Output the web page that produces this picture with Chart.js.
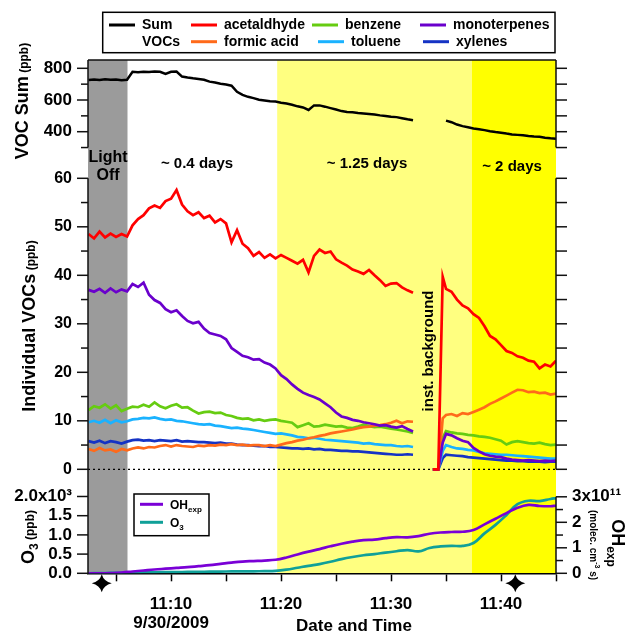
<!DOCTYPE html>
<html>
<head>
<meta charset="utf-8">
<title>Chamber VOCs, 9/30/2009</title>
<script src="https://cdn.jsdelivr.net/npm/chart.js@4.4.0/dist/chart.umd.min.js"></script>
<style>
  html, body { margin: 0; padding: 0; background: #fff; }
  #wrap { width: 629px; height: 632px; }
</style>
</head>
<body>
<div id="wrap"><canvas id="vocChart" width="629" height="632"></canvas></div>
<script>
// time in minutes after 11:00 on 9/30/2009
const tVoc = [
  2.5, 3, 3.5, 4, 4.5, 5, 5.5, 6, 6.5, 7,
  7.5, 8, 8.5, 9, 9.5, 10, 10.5, 11, 11.5, 12,
  12.5, 13, 13.5, 14, 14.5, 15, 15.5, 16, 16.5, 17,
  17.5, 18, 18.5, 19, 19.5, 20, 20.5, 21, 21.5, 22,
  22.5, 23, 23.5, 24, 24.5, 25, 25.5, 26, 26.5, 27,
  27.5, 28, 28.5, 29, 29.5, 30, 30.5, 31, 31.5, 32,
  33, 33.8, 34.3, 34.7,
  35, 35.5, 36, 36.5, 37, 37.5, 38, 38.5, 39, 39.5, 40,
  40.5, 41, 41.5, 42, 42.5, 43, 43.5, 44, 44.5, 45
];

const vocSum = [
  726, 730, 727, 731, 728, 730, 725, 728, 778, 775,
  779, 777, 780, 778, 764, 778, 780, 748, 742, 737,
  733, 728, 716, 710, 703, 698, 690, 652, 632, 620,
  612, 602, 597, 592, 590, 583, 578, 570, 560, 553,
  537, 566, 566, 558, 549, 540, 530, 524, 522, 518,
  515, 512, 508, 503, 499, 494, 492, 485, 478, 472,
  null, null, null, null,
  470, 460, 445, 435, 428, 420, 416, 410, 403, 398, 394,
  388, 383, 380, 377, 373, 370, 368, 362, 358, 355
];

const acetaldehyde = [
  48.5, 47.6, 49.0, 47.8, 48.6, 47.9, 48.5, 48.0, 50.3, 51.6,
  52.4, 53.8, 54.4, 53.9, 55.3, 55.8, 57.6, 54.6, 53.2, 52.4,
  53.0, 51.8, 52.3, 50.9, 51.6, 50.7, 46.8, 49.3, 46.5, 45.6,
  44.0, 44.8, 43.6, 44.3, 43.5, 44.2, 43.6, 43.0, 42.4, 43.2,
  40.6, 44.0, 45.3, 44.6, 44.9, 43.3, 42.6, 42.0, 41.2, 40.8,
  40.3, 41.1, 40.0, 39.0, 37.8, 38.3, 38.4, 37.5, 36.9, 36.4,
  null, 0, 0, 39.7,
  37.2, 36.6, 35.0, 33.8, 33.2, 32.0, 31.2, 29.5, 27.5, 26.8, 25.6,
  24.4, 24.0, 23.3, 23.0, 22.4, 22.2, 20.8, 21.6, 21.2, 22.4
];

const monoterpenes = [
  37.0, 36.6, 37.2, 36.4, 37.3, 36.5, 37.1, 36.7, 38.2, 37.6,
  38.5, 36.0, 34.9, 34.3, 33.0, 32.4, 32.8, 31.6, 30.6, 30.1,
  30.4, 29.0, 28.1, 27.8, 27.5, 26.8, 25.0, 24.2, 23.4, 23.1,
  22.6, 22.7, 22.0, 21.6, 20.8, 19.4, 18.6, 17.5, 16.6, 15.8,
  15.3, 14.9, 14.4, 13.6, 12.8, 11.7, 10.9, 10.6, 10.2, 10.0,
  9.7, 9.5, 9.3, 9.0, 9.1, 8.8, 8.6, 8.9, 8.3, 7.8,
  null, 0, 0, 5.5,
  7.3, 7.0, 6.4, 5.9, 5.6, 4.4, 3.7, 3.1, 2.8, 2.6, 2.5,
  2.2, 2.0, 1.9, 1.8, 1.9, 1.8, 1.7, 1.8, 1.7, 1.8
];

const formicAcid = [
  4.2, 3.8, 4.4, 3.9, 4.1, 3.6, 4.2, 3.9, 4.3, 4.5,
  4.3, 4.6, 4.5, 4.8, 5.0, 4.7, 5.0, 4.8, 4.7, 4.6,
  4.9, 4.8, 5.0, 4.9, 5.1, 5.0, 5.2, 5.0, 5.1, 4.9,
  5.0, 5.0, 4.8, 5.0, 4.8, 5.1, 5.4, 5.6, 5.9, 6.1,
  6.4, 6.6, 6.9, 7.1, 7.4, 7.6, 7.8, 8.0, 8.2, 8.5,
  8.7, 8.8, 9.0, 9.1, 9.3, 9.6, 10.0, 9.5, 9.9, 9.8,
  null, 0, 0, 10.5,
  11.2, 11.4, 11.0, 11.6, 11.4, 11.8, 12.3, 12.8, 13.5, 14.0, 14.6,
  15.2, 15.8, 16.4, 16.3, 15.9, 16.0, 15.7, 15.8, 15.4, 15.6
];

const benzene = [
  12.2, 13.0, 12.7, 13.4, 12.5, 13.2, 12.0, 12.5, 12.9, 12.8,
  13.3, 12.9, 13.8, 13.0, 12.6, 13.1, 13.4, 12.7, 12.8, 12.1,
  11.5, 11.8, 11.9, 11.6, 11.7, 11.2, 11.0, 10.6, 10.4, 10.5,
  10.1, 10.3, 10.0, 10.2, 10.3, 10.0, 9.8, 9.6, 8.7, 9.1,
  9.5, 8.8, 8.9, 9.2, 9.0, 8.8, 8.9, 8.6, 8.5, 8.8,
  9.2, 8.9, 8.7, 8.8, 8.6, 8.4, 8.2, 8.0, 7.8, 7.5,
  null, 0, 0, 6.5,
  7.9, 7.6, 7.4, 7.3, 7.1, 7.0, 6.8, 6.7, 6.5, 6.2, 5.9,
  5.1, 5.6, 5.8, 5.6, 5.4, 5.3, 5.5, 5.2, 5.0, 5.1
];

const toluene = [
  9.7, 10.0, 9.6, 10.2, 9.5, 10.1, 9.7, 9.9, 10.3, 10.4,
  10.6, 10.5, 10.7, 10.4, 10.2, 10.3, 10.0, 9.9, 9.7, 9.5,
  9.3, 9.2, 9.3, 9.0, 8.9, 8.7, 8.5, 8.6, 8.4, 8.3,
  8.1, 7.9, 7.7, 7.5, 7.3, 7.4, 7.2, 7.0, 6.7, 6.6,
  6.4, 6.5, 6.3, 6.1, 6.0, 5.9, 5.8, 5.7, 5.6, 5.5,
  5.3, 5.4, 5.2, 5.1, 5.0, 5.0, 4.8, 4.7, 4.8, 4.6,
  null, 0, 0, 3.8,
  5.0, 4.6, 4.3, 4.2, 4.0, 3.9, 3.6, 3.3, 3.2, 3.1, 3.0,
  3.0, 2.9, 2.8, 2.7, 2.6, 2.5, 2.4, 2.3, 2.2, 2.2
];

const xylenes = [
  5.8, 5.5, 5.9, 5.4, 5.8, 5.6, 5.3, 5.7, 6.0, 6.1,
  5.9, 6.0, 5.8, 6.0, 5.9, 5.8, 6.0, 5.7, 5.8, 5.7,
  5.6, 5.6, 5.5, 5.4, 5.5, 5.3, 5.3, 5.1, 5.0, 5.0,
  4.9, 4.8, 4.8, 4.6, 4.6, 4.5, 4.4, 4.3, 4.3, 4.2,
  4.3, 4.1, 4.2, 4.0, 4.0, 3.9, 3.8, 3.8, 3.7, 3.7,
  3.6, 3.5, 3.4, 3.3, 3.2, 3.1, 3.0, 3.0, 3.1, 3.0,
  null, 0, 0, 2.3,
  3.0, 2.9, 2.8, 2.7, 2.5, 2.4, 2.3, 2.2, 2.1, 2.0, 1.9,
  1.8, 1.8, 1.7, 1.7, 1.6, 1.6, 1.6, 1.5, 1.6, 1.6
];

// bottom panel, one point per minute
const tOx = [
  2.5, 3.5, 4.5, 5.5, 6.5, 7.5, 8.5, 9.5, 10.5, 11.5,
  12.5, 13.5, 14.5, 15.5, 16.5, 17.5, 18.5, 19.5, 20.5, 21.5,
  22.5, 23.5, 24.5, 25.5, 26.5, 27.5, 28.5, 29.5, 30.5, 31.5,
  32.5, 33.5, 34.5, 35.5, 36.5, 37.5, 38.5, 39.5, 40.5, 41.5,
  42.5, 43.5, 44.5, 45
];
// OH exposure, in units of 1e11 molec cm-3 s
const ohExp = [
  0, 0, 0.01, 0.03, 0.07, 0.11, 0.15, 0.18, 0.21, 0.24,
  0.28, 0.32, 0.37, 0.42, 0.46, 0.48, 0.5, 0.53, 0.62, 0.74,
  0.85, 0.95, 1.06, 1.16, 1.24, 1.3, 1.32, 1.38, 1.42, 1.41,
  1.46, 1.55, 1.6, 1.62, 1.63, 1.7, 1.92, 2.14, 2.36, 2.57,
  2.68, 2.64, 2.63, 2.65
];
// ozone, ppb
const ozone = [
  0, 5, 10, 14, 18, 22, 26, 30, 33, 36,
  39, 42, 45, 48, 50, 52, 55, 62, 95, 145,
  195, 240, 300, 370, 425, 470, 500, 540, 575, 605,
  570, 660, 700, 715, 712, 790, 1040, 1260, 1520, 1800,
  1890, 1880, 1935, 1960
];

// light phases: lights off, ~0.4 days, ~1.25 days, ~2 days
const phaseEdges = [6.06, 19.65, 37.36];
const phaseColors = ['#9b9b9b', '#ffffff', '#ffff80', '#ffff00'];
const markerTimes = [3.7, 41.3];

const xTicks = [5, 10, 15, 20, 25, 30, 35, 40, 45];
const sumTicks = [300, 400, 500, 600, 700, 800];
const vocTicks = [0, 5, 10, 15, 20, 25, 30, 35, 40, 45, 50, 55, 60];
const o3Ticks = [0, 500, 1000, 1500, 2000];
const ohTicks = [0, 0.5, 1, 1.5, 2, 2.5, 3];

const FONT = '"Liberation Sans", Arial, sans-serif';
const LEFT_W = 88, RIGHT_W = 73, X_H = 58.7;

Chart.defaults.font.family = FONT;
Chart.defaults.font.weight = 'bold';
Chart.defaults.color = '#000';

const pts = (ts, vals) => ts.map((t, i) => ({ x: t, y: vals[i] }));

function line(label, data, color, axis, width) {
    return {
        label: label,
        data: data,
        yAxisID: axis,
        borderColor: color,
        backgroundColor: color,
        borderWidth: width || 2.7,
        pointRadius: 0,
        tension: 0,
        spanGaps: false,
        fill: false
    };
}

function yAxis(pos, weight, min, max, tickVals, fmt, size) {
    return {
        type: 'linear',
        position: pos,
        stack: pos === 'left' ? 'L' : 'R',
        stackWeight: weight.h,
        weight: weight.w,
        min: min,
        max: max,
        afterBuildTicks: s => { s.ticks = tickVals.map(v => ({ value: v })); },
        afterFit: s => { s.width = pos === 'left' ? LEFT_W : RIGHT_W; },
        grid: { display: false, drawTicks: false },
        border: { display: false },
        ticks: {
            display: !!fmt,
            autoSkip: false,
            padding: 16,
            color: '#000',
            font: { size: size || 16, weight: 'bold' },
            callback: fmt || (() => '')
        }
    };
}

// rich text: parts drawn along one baseline, centered
function richText(ctx, parts, x, y, angle) {
    ctx.save();
    ctx.translate(x, y);
    ctx.rotate(angle);
    let total = 0;
    parts.forEach(p => {
        ctx.font = 'bold ' + p.size + 'px ' + FONT;
        p.w = ctx.measureText(p.t).width;
        total += p.w;
    });
    let cx = -total / 2;
    ctx.textAlign = 'left';
    ctx.textBaseline = 'alphabetic';
    ctx.fillStyle = '#000';
    parts.forEach(p => {
        ctx.font = 'bold ' + p.size + 'px ' + FONT;
        ctx.fillText(p.t, cx, p.dy || 0);
        cx += p.w;
    });
    ctx.restore();
}

function tickMarks(ctx, scale, x, dir, vals, isMajor) {
    vals.forEach(v => {
        const y = scale.getPixelForValue(v);
        ctx.beginPath();
        ctx.moveTo(x, y);
        ctx.lineTo(x + dir * (isMajor(v) ? 11 : 7), y);
        ctx.stroke();
    });
}

function star(ctx, cx, cy) {
    const rx = 10, ry = 9, k = 0.2;
    ctx.beginPath();
    ctx.moveTo(cx, cy - ry);
    ctx.quadraticCurveTo(cx + rx * k, cy - ry * k, cx + rx, cy);
    ctx.quadraticCurveTo(cx + rx * k, cy + ry * k, cx, cy + ry);
    ctx.quadraticCurveTo(cx - rx * k, cy + ry * k, cx - rx, cy);
    ctx.quadraticCurveTo(cx - rx * k, cy - ry * k, cx, cy - ry);
    ctx.fill();
}

const decor = {
    id: 'decor',
    beforeDraw(chart) {
        const { ctx, chartArea: a, scales: { x } } = chart;
        ctx.save();
        ctx.fillStyle = '#fff';
        ctx.fillRect(0, 0, chart.width, chart.height);
        const edges = [x.min].concat(phaseEdges, [x.max]);
        phaseColors.forEach((c, i) => {
            const x0 = x.getPixelForValue(edges[i]);
            const x1 = x.getPixelForValue(edges[i + 1]);
            ctx.fillStyle = c;
            ctx.fillRect(x0, a.top, x1 - x0, a.bottom - a.top);
        });
        ctx.restore();
    },
    beforeDatasetsDraw(chart) {
        const { ctx, chartArea: a, scales } = chart;
        const y0 = scales.yMid.getPixelForValue(0);
        ctx.save();
        ctx.strokeStyle = '#000';
        ctx.lineWidth = 1.3;
        ctx.setLineDash([2, 3]);
        ctx.beginPath();
        ctx.moveTo(a.left, y0);
        ctx.lineTo(a.right, y0);
        ctx.stroke();
        ctx.restore();
    },
    afterDraw(chart) {
        const { ctx, chartArea: a, scales: s } = chart;
        ctx.save();
        ctx.strokeStyle = '#111';
        ctx.lineWidth = 1.5;

        // frame pieces
        ctx.beginPath();
        ctx.moveTo(a.left, a.top); ctx.lineTo(a.right, a.top);
        ctx.moveTo(a.left, a.top); ctx.lineTo(a.left, s.yTop.getPixelForValue(300));
        ctx.moveTo(a.left, s.yMid.getPixelForValue(60)); ctx.lineTo(a.left, a.bottom);
        ctx.moveTo(a.right, a.top); ctx.lineTo(a.right, s.yTopR.getPixelForValue(300));
        ctx.moveTo(a.right, s.yMidR.getPixelForValue(60)); ctx.lineTo(a.right, s.yMidR.getPixelForValue(0));
        ctx.moveTo(a.right, s.yOH.getPixelForValue(3)); ctx.lineTo(a.right, a.bottom);
        ctx.stroke();

        tickMarks(ctx, s.yTop, a.left, -1, sumTicks, v => v % 200 === 0);
        tickMarks(ctx, s.yMid, a.left, -1, vocTicks, v => v % 10 === 0);
        tickMarks(ctx, s.yO3, a.left, -1, o3Ticks, () => true);
        tickMarks(ctx, s.yTopR, a.right, 1, sumTicks, () => true);
        tickMarks(ctx, s.yMidR, a.right, 1, vocTicks, () => true);
        tickMarks(ctx, s.yOH, a.right, 1, ohTicks, v => Number.isInteger(v));

        // axis titles
        const up = -Math.PI / 2, down = Math.PI / 2;
        richText(ctx, [{ t: 'VOC Sum', size: 18 }, { t: ' (ppb)', size: 12 }], 28, 101, up);
        richText(ctx, [{ t: 'Individual VOCs', size: 18 }, { t: ' (ppb)', size: 12 }], 35, 326, up);
        richText(ctx, [{ t: 'O', size: 18 }, { t: '3', size: 12, dy: 4 }, { t: ' (ppb)', size: 12 }], 34, 537, up);
        richText(ctx, [{ t: 'OH', size: 18 }, { t: 'exp', size: 12, dy: 5 }], 612, 543, down);
        richText(ctx, [{ t: '(molec. cm', size: 10 }, { t: '-3', size: 7, dy: -5 }, { t: ' s)', size: 10 }], 590, 545, down);
        richText(ctx, [{ t: 'Date and Time', size: 17 }], 354, 631, 0);

        // phase notes
        const x = s.x;
        ctx.fillStyle = '#000';
        ctx.textAlign = 'center';
        ctx.textBaseline = 'middle';
        ctx.font = 'bold 16px ' + FONT;
        ctx.fillText('Light', x.getPixelForValue(4.27), a.top + 98);
        ctx.fillText('Off', x.getPixelForValue(4.27), a.top + 116);
        ctx.font = 'bold 15px ' + FONT;
        ctx.fillText('~ 0.4 days', x.getPixelForValue(12.36), a.top + 104);
        ctx.fillText('~ 1.25 days', x.getPixelForValue(27.82), a.top + 104);
        ctx.fillText('~ 2 days', x.getPixelForValue(41.0), a.top + 107);
        ctx.save();
        ctx.translate(x.getPixelForValue(33.45), s.yMid.getPixelForValue(24.4));
        ctx.rotate(up);
        ctx.fillText('inst. background', 0, 0);
        ctx.restore();

        // sample markers under the time axis
        markerTimes.forEach(t => star(ctx, x.getPixelForValue(t), a.bottom + 10));

        // main legend
        const ds = chart.data.datasets;
        const byLabel = l => ds.find(d => d.label === l);
        ctx.lineWidth = 1.5;
        ctx.strokeStyle = '#000';
        ctx.strokeRect(102.7, 12.3, 452.3, 40.4);
        const rows = [25, 41.7];
        const items = [
            ['Sum VOCs', 109, 0], ['acetaldhyde', 191, 0], ['formic acid', 191, 1],
            ['benzene', 312, 0], ['toluene', 318, 1], ['monoterpenes', 420, 0], ['xylenes', 423, 1]
        ];
        ctx.font = 'bold 14px ' + FONT;
        ctx.textAlign = 'left';
        items.forEach(([l, lx, r]) => {
            ctx.strokeStyle = byLabel(l).borderColor;
            ctx.lineWidth = 3;
            ctx.beginPath();
            ctx.moveTo(lx, rows[r]);
            ctx.lineTo(lx + 26, rows[r]);
            ctx.stroke();
            if (l === 'Sum VOCs') {
                ctx.fillText('Sum', lx + 33, rows[0]);
                ctx.fillText('VOCs', lx + 33, rows[1]);
            } else {
                ctx.fillText(l, lx + 33, rows[r]);
            }
        });

        // inset legend for bottom panel
        ctx.lineWidth = 1.5;
        ctx.strokeStyle = '#000';
        ctx.strokeRect(134, 494, 75, 41.7);
        [['OH', 'exp', 504.3], ['O', '3', 522.3]].forEach(([main, sub, ly]) => {
            ctx.strokeStyle = byLabel(main + sub).borderColor;
            ctx.lineWidth = 3;
            ctx.beginPath();
            ctx.moveTo(140, ly);
            ctx.lineTo(163, ly);
            ctx.stroke();
            ctx.font = 'bold 12px ' + FONT;
            ctx.textBaseline = 'alphabetic';
            ctx.fillText(main, 170, ly + 4.5);
            const w = ctx.measureText(main).width;
            ctx.font = 'bold 8px ' + FONT;
            ctx.fillText(sub, 170 + w, ly + 7.5);
        });
        ctx.restore();
    }
};

const chart = new Chart(document.getElementById('vocChart').getContext('2d'), {
    type: 'line',
    data: {
        datasets: [
            line('acetaldhyde', pts(tVoc, acetaldehyde), '#ff0000', 'yMid'),
            line('monoterpenes', pts(tVoc, monoterpenes), '#6a00cc', 'yMid'),
            line('formic acid', pts(tVoc, formicAcid), '#ff6a1a', 'yMid'),
            line('benzene', pts(tVoc, benzene), '#66cc11', 'yMid'),
            line('toluene', pts(tVoc, toluene), '#1ab2ff', 'yMid'),
            line('xylenes', pts(tVoc, xylenes), '#1533c4', 'yMid'),
            line('Sum VOCs', pts(tVoc, vocSum), '#000000', 'yTop', 2.5),
            Object.assign(line('OHexp', pts(tOx, ohExp), '#7a00d6', 'yOH'), { tension: 0.4 }),
            Object.assign(line('O3', pts(tOx, ozone), '#10a098', 'yO3'), { tension: 0.4 })
        ]
    },
    options: {
        responsive: false,
        animation: false,
        events: [],
        layout: { padding: { top: 60, left: 0, right: 0, bottom: 0 } },
        plugins: { legend: { display: false }, tooltip: { enabled: false } },
        scales: {
            x: {
                type: 'linear',
                position: 'bottom',
                min: 2.45,
                max: 45,
                afterBuildTicks: s => { s.ticks = xTicks.map(v => ({ value: v })); },
                afterFit: s => { s.height = X_H; },
                grid: { drawOnChartArea: false, tickLength: 8, color: '#000', tickColor: '#000', tickWidth: 1.5 },
                border: { display: true, color: '#000', width: 1.5 },
                ticks: {
                    padding: 14,
                    maxRotation: 0,
                    autoSkip: false,
                    color: '#000',
                    font: { size: 17, weight: 'bold', lineHeight: 1.1 },
                    callback: v => v === 10 ? ['11:10', '9/30/2009'] : (v % 10 === 0 ? '11:' + v : '')
                }
            },
            yTop: yAxis('left', { h: 118.3, w: 3 }, 106, 852.4, sumTicks, v => v % 200 === 0 ? String(v) : '', 17),
            yMid: yAxis('left', { h: 310.7, w: 2 }, -4.06, 60, vocTicks, v => v % 10 === 0 ? String(v) : ''),
            yO3: yAxis('left', { h: 84.3, w: 1 }, 0, 2195, o3Ticks,
                v => v === 2000 ? '2.0x10\u00b3' : (v / 1000).toFixed(1), 17),
            yTopR: yAxis('right', { h: 118.3, w: 1 }, 106, 852.4, sumTicks, null),
            yMidR: yAxis('right', { h: 310.7, w: 2 }, -4.06, 60, vocTicks, null),
            yOH: yAxis('right', { h: 84.3, w: 3 }, 0, 3.306, ohTicks,
                v => Number.isInteger(v) ? (v === 3 ? '3x10\u00b9\u00b9' : String(v)) : '', 17)
        }
    },
    plugins: [decor]
});
</script>
</body>
</html>
